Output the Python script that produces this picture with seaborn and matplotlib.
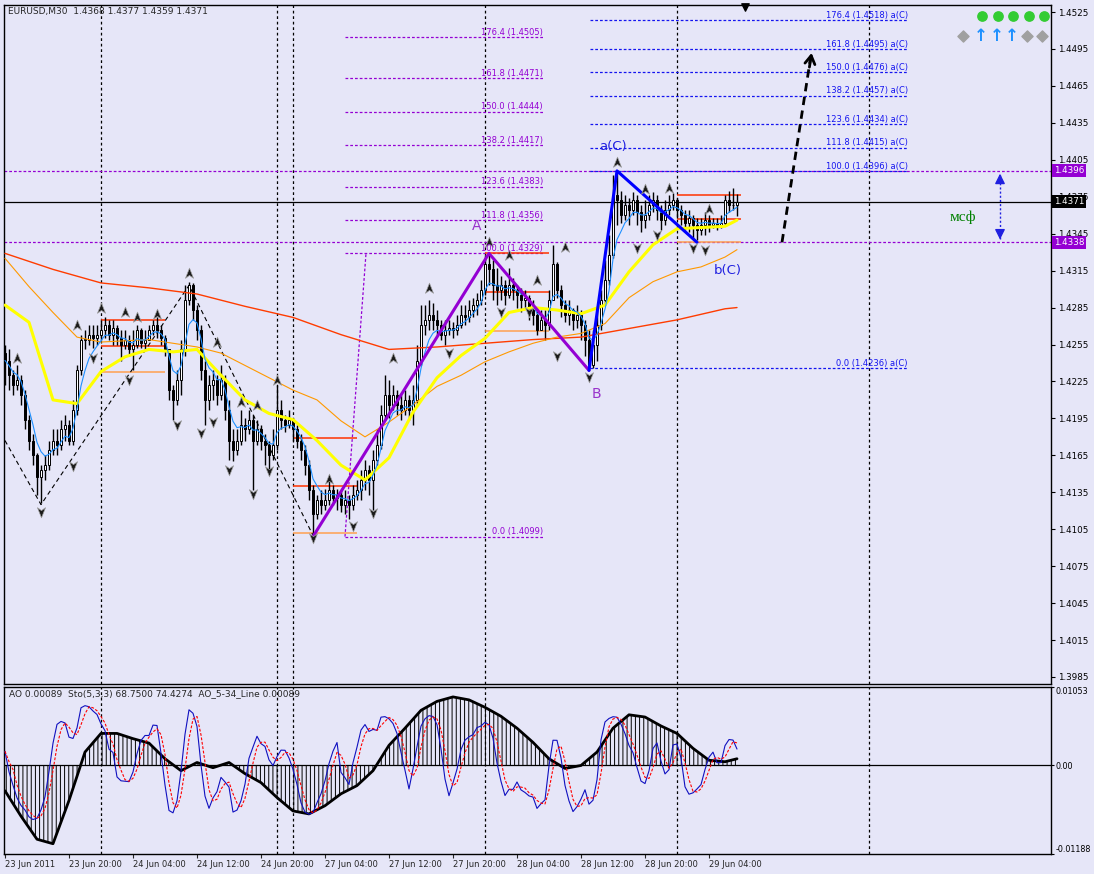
import numpy as np
import pandas as pd
import seaborn as sns
import matplotlib.pyplot as plt
import matplotlib.transforms as mtransforms
from matplotlib.path import Path

sns.set_theme(style='white')
plt.rcParams['font.family'] = ['DejaVu Sans']
plt.rcParams['hatch.linewidth'] = 0.7

BG = '#E6E6F8'
PURPLE = '#9400D3'
FIB_BLUE = '#1414F0'

# EURUSD M30 candles, in pips above 1.4000 (open = previous close)
first_open_pts = 248
close_pts = [242, 230, 222, 226, 214, 194, 177, 165,
             147, 153, 157, 169, 177, 173, 186, 190, 177, 202, 234, 259, 259, 263,
             260, 263, 267, 271, 263, 268, 260, 255, 259, 251, 255, 267, 256, 259,
             267, 271, 267, 260, 251, 218, 210, 226, 251, 291, 303, 283, 267, 234, 210,
             222, 226, 214, 226, 202, 177, 169, 177, 190, 186, 194, 177, 186, 177,
             173, 165, 173, 202, 194, 190, 194, 186, 177, 169, 157, 137, 117, 129, 125,
             129, 137, 130, 133, 125, 129, 125, 133, 137, 145, 153, 145, 161, 173,
             198, 214, 206, 214, 206, 202, 210, 202, 210, 242, 271, 275, 279, 275,
             271, 263, 267, 268, 267, 271, 279, 277, 283, 287, 291, 299, 320, 316, 303,
             299, 303, 295, 303, 299, 295, 291, 293, 283, 279, 267, 275, 271, 291,
             320, 299, 287, 279, 283, 275, 279, 271, 259, 238, 255, 271, 291, 307, 328,
             376, 372, 360, 368, 364, 372, 363, 356, 360, 368, 372, 364, 356, 364,
             368, 372, 364, 360, 354, 358, 352, 348, 352, 356, 352, 354, 352, 354,
             372, 368, 368, 371]
high_pts = [255, 251, 234, 238, 230, 218, 198, 182,
            167, 157, 165, 177, 186, 186, 194, 198, 194, 210, 238, 263, 267, 271,
            271, 271, 275, 277, 275, 275, 271, 267, 267, 263, 267, 271, 268, 267,
            271, 275, 277, 271, 263, 251, 222, 234, 259, 303, 306, 305, 287, 271, 242,
            230, 234, 230, 238, 230, 210, 186, 186, 202, 195, 202, 198, 194, 190,
            182, 177, 186, 222, 210, 198, 202, 195, 190, 182, 173, 161, 141, 133, 137,
            138, 145, 141, 138, 137, 137, 133, 141, 145, 153, 161, 157, 169, 186,
            206, 230, 226, 222, 218, 214, 218, 214, 222, 255, 287, 287, 291, 289,
            283, 275, 275, 275, 273, 279, 287, 287, 291, 293, 297, 307, 328, 329, 324,
            317, 311, 307, 317, 309, 303, 301, 299, 295, 291, 283, 283, 283, 299,
            336, 322, 303, 291, 291, 285, 287, 283, 275, 267, 267, 283, 299, 324, 344,
            393, 396, 380, 376, 374, 379, 376, 368, 372, 376, 379, 376, 368, 372,
            376, 378, 374, 368, 364, 364, 360, 358, 358, 363, 360, 358, 358, 360,
            376, 380, 382, 377]
low_pts = [222, 218, 214, 218, 206, 186, 169, 157,
           133, 126, 145, 153, 165, 165, 169, 177, 173, 173, 198, 230, 251, 255,
           252, 255, 259, 260, 259, 255, 255, 242, 251, 246, 234, 252, 252, 251,
           259, 263, 260, 255, 246, 210, 194, 206, 214, 246, 287, 275, 259, 226, 190,
           202, 210, 206, 210, 194, 161, 160, 165, 173, 177, 182, 137, 173, 169,
           157, 153, 161, 169, 186, 184, 187, 177, 171, 161, 149, 129, 99, 113, 117,
           121, 125, 125, 121, 119, 117, 113, 121, 129, 129, 137, 133, 121, 157,
           170, 194, 195, 202, 198, 194, 198, 194, 190, 206, 238, 263, 267, 267,
           263, 259, 255, 263, 260, 263, 268, 271, 273, 277, 279, 287, 295, 303, 291,
           287, 291, 287, 293, 291, 285, 281, 285, 275, 271, 263, 267, 259, 267,
           291, 293, 277, 273, 271, 267, 268, 259, 246, 234, 236, 242, 267, 287, 303,
           325, 352, 354, 356, 352, 360, 352, 346, 350, 356, 363, 356, 348, 352,
           360, 364, 358, 352, 348, 346, 341, 340, 344, 344, 346, 350, 348, 350,
           352, 363, 364, 359]

# moving averages (bar index, pips above 1.4000)
ma_idx = [0, 6, 12, 18, 24, 30, 36, 42, 48, 54, 60, 66, 72, 78, 84, 90,
          96, 102, 108, 114, 120, 126, 132, 138, 144, 150, 156, 162, 168, 174, 180, 183]
yellow_pts = [287, 273, 210, 207, 233, 245, 251, 249, 251, 230, 210, 199, 194, 177, 157, 145,
              163, 200, 228, 246, 260, 281, 285, 283, 280, 287, 314, 336, 349, 350, 351, 356]
orange_pts = [325, 302, 281, 261, 257, 258, 259, 256, 253, 248, 238, 228, 218, 210, 193, 180,
              192, 206, 221, 230, 241, 249, 256, 261, 264, 272, 293, 306, 314, 318, 326, 332]
red_idx = [0, 12, 24, 36, 48, 60, 72, 84, 96, 108, 120, 132, 144, 156, 168, 180, 183]
red_pts = [329, 316, 305, 301, 296, 286, 277, 263, 251, 253, 256, 259, 261, 268, 275, 284, 285]

# Awesome oscillator (x 1e-4)
ao_idx = [0, 4, 8, 12, 16, 20, 24, 28, 32, 36, 40, 44, 48, 52, 56, 60, 64, 68, 72, 76, 80, 84,
          88, 92, 96, 100, 104, 108, 112, 116, 120, 124, 128, 132, 136, 140, 144, 148, 152,
          156, 160, 164, 168, 172, 176, 180, 183]
ao_e4 = [-34, -68, -99, -105, -47, 18, 43, 43, 36, 30, 9, -7, 4, -3, 4, -11, -23, -43, -61,
         -65, -54, -38, -27, -7, 27, 50, 74, 86, 92, 88, 78, 66, 50, 31, 9, -4, 0, 18, 50,
         68, 65, 53, 43, 23, 7, 5, 9]

# daily pivot segments (start bar, levels)
pivot_start = [24, 72, 120, 168]
pivot_r = [1.4275, 1.4179, 1.4329, 1.4376]
pivot_m = [1.4254, 1.4140, 1.4298, 1.4357]
pivot_s = [1.4233, 1.4102, 1.4266, 1.4338]

# fractal markers (bar index, pips above 1.4000)
frac_up_idx = [3, 18, 24, 30, 33, 38, 46, 53, 59, 63, 68, 81, 97, 106, 121, 126, 133, 140,
               153, 160, 166, 176]
frac_up_pts = [244, 271, 285, 281, 277, 280, 313, 257, 208, 206, 226, 146, 244, 301, 338,
               328, 307, 334, 403, 381, 382, 365]
frac_dn_idx = [9, 17, 22, 31, 43, 49, 52, 56, 62, 66, 77, 87, 92, 111, 124, 131, 138, 146,
               158, 163, 172, 175]
frac_dn_pts = [119, 156, 244, 226, 190, 183, 192, 153, 134, 152, 98, 108, 118, 248, 281,
               281, 246, 229, 333, 344, 333, 332]

# zigzag and waves
zz_idx = [0, 9, 46, 77]
zz_px = [1.4177, 1.4125, 1.4303, 1.4100]
wave1_idx = [77, 121, 146]
wave1_px = [1.4099, 1.4329, 1.4234]
wave2_idx = [146, 153, 173]
wave2_px = [1.4234, 1.4396, 1.4338]

fib_ratios = [0.0, 100.0, 111.8, 123.6, 138.2, 150.0, 161.8, 176.4]
fib1_lo, fib1_hi, fib1_x = 1.4099, 1.4329, (85, 134.5)
fib2_lo, fib2_hi, fib2_x = 1.4236, 1.4396, (146.25, 225.75)

separator_idx = [24, 68, 72, 120, 168, 216]
price_ticks = [1.4525, 1.4495, 1.4465, 1.4435, 1.4405, 1.4375, 1.4345, 1.4315, 1.4285,
               1.4255, 1.4225, 1.4195, 1.4165, 1.4135, 1.4105, 1.4075, 1.4045, 1.4015, 1.3985]
time_idx = [0, 16, 32, 48, 64, 80, 96, 112, 128, 144, 160, 176]
time_labels = ['23 Jun 2011', '23 Jun 20:00', '24 Jun 04:00', '24 Jun 12:00', '24 Jun 20:00',
               '27 Jun 04:00', '27 Jun 12:00', '27 Jun 20:00', '28 Jun 04:00', '28 Jun 12:00',
               '28 Jun 20:00', '29 Jun 04:00']

# ---- build the price frame
close = 1.4 + np.array(close_pts) / 10000
high = 1.4 + np.array(high_pts) / 10000
low = 1.4 + np.array(low_pts) / 10000
open_ = np.concatenate([[1.4 + first_open_pts / 10000], close[:-1]])
high = np.maximum(high, np.maximum(open_, close))
low = np.minimum(low, np.minimum(open_, close))
df = pd.DataFrame({'bar': np.arange(len(close)), 'open': open_, 'high': high,
                   'low': low, 'close': close})
df['fast_ma'] = df['close'].ewm(span=5, adjust=False).mean()
ll = df['low'].rolling(5, min_periods=1).min()
hh = df['high'].rolling(5, min_periods=1).max()
df['sto_main'] = 100 * (df['close'] - ll).rolling(3, min_periods=1).sum() / \
    (hh - ll).rolling(3, min_periods=1).sum()
df['sto_signal'] = df['sto_main'].rolling(3, min_periods=1).mean()

# ---- figure
W, H = 1094, 874
def px_box(x0, y0, x1, y1):
    return [x0 / W, 1 - y1 / H, (x1 - x0) / W, (y1 - y0) / H]

fig = plt.figure(figsize=(W / 100, H / 100), dpi=100, facecolor=BG)
ax = fig.add_axes(px_box(4, 5, 1051, 684))
ax2 = fig.add_axes(px_box(4, 687, 1051, 854), sharex=ax)
for a in (ax, ax2):
    a.set_facecolor(BG)
    for s in a.spines.values():
        s.set_color('black')
        s.set_linewidth(1)
ax.set_xlim(-0.25, 261.5)
ax.set_ylim(1.39793, 1.45307)
ax2.set_ylim(-0.01188, 0.01053)

dash_sep = (0, (2.2, 2.2))
dash_fib = (0, (2.2, 1.6))
for j in separator_idx:
    ax.axvline(j, color='black', ls=dash_sep, lw=0.9, zorder=1)
    ax2.axvline(j, color='black', ls=dash_sep, lw=0.9, zorder=1)

# full width levels
ax.axhline(1.4396, color=PURPLE, ls=dash_fib, lw=0.9, zorder=1.5)
ax.axhline(1.4338, color=PURPLE, ls=dash_fib, lw=0.9, zorder=1.5)
ax.axhline(df['close'].iloc[-1], color='black', lw=0.9, zorder=1.5)

# fibonacci grids
fib1_px = [fib1_lo + r / 100 * (fib1_hi - fib1_lo) for r in fib_ratios]
fib2_px = [fib2_lo + r / 100 * (fib2_hi - fib2_lo) for r in fib_ratios]
ax.hlines(fib1_px, fib1_x[0], fib1_x[1], colors=PURPLE, linestyles=dash_fib, lw=0.9, zorder=1.6)
ax.hlines(fib2_px, fib2_x[0], fib2_x[1], colors=FIB_BLUE, linestyles=dash_fib, lw=0.9, zorder=1.6)
ax.plot([fib1_x[0], 90.25], [fib1_lo, fib1_hi], color=PURPLE, ls=dash_fib, lw=0.9, zorder=1.6)
for r, p in zip(fib_ratios, fib1_px):
    ax.text(fib1_x[1], p + 0.00003, f'{r:.1f} ({p:.4f})', color=PURPLE, fontsize=6,
            ha='right', va='bottom', zorder=7)
for r, p in zip(fib_ratios, fib2_px):
    ax.text(fib2_x[1], p + 0.00003, f'{r:.1f} ({p:.4f}) a(C)', color=FIB_BLUE, fontsize=6,
            ha='right', va='bottom', zorder=7)

# pivot segments
for s, r, m, lo in zip(pivot_start, pivot_r, pivot_m, pivot_s):
    ax.hlines([r, m], s, s + 16, colors='#FF3300', lw=1.1, zorder=2)
    ax.hlines([lo], s, s + 16, colors='#FFA050', lw=1.1, zorder=2)

# zigzag
ax.plot(zz_idx, zz_px, color='black', ls=(0, (4, 3)), lw=0.8, zorder=2)

# candles
bull = df['close'] >= df['open']
ax.vlines(df['bar'], df['low'], df['high'], color='black', lw=1.0, zorder=3)
body_bot = np.minimum(df['open'], df['close'])
body_h = np.maximum((df['close'] - df['open']).abs(), 0.00005)
ax.bar(df['bar'][bull], body_h[bull], bottom=body_bot[bull], width=0.72,
       color='white', edgecolor='black', lw=0.7, zorder=3.5)
ax.bar(df['bar'][~bull], body_h[~bull], bottom=body_bot[~bull], width=0.72,
       color='black', edgecolor='black', lw=0.7, zorder=3.5)

# moving averages
sns.lineplot(x=red_idx, y=1.4 + np.array(red_pts) / 10000, color='#FF3C00', lw=1.0, ax=ax, zorder=4)
sns.lineplot(x=ma_idx, y=1.4 + np.array(orange_pts) / 10000, color='#FF9900', lw=0.8, ax=ax, zorder=4)
sns.lineplot(x=ma_idx, y=1.4 + np.array(yellow_pts) / 10000, color='#FFFF00', lw=2.2, ax=ax, zorder=4.2)
sns.lineplot(data=df, x='bar', y='fast_ma', color='#1E90FF', lw=0.8, ax=ax, zorder=4.3)

# waves
ax.plot(wave1_idx, wave1_px, color=PURPLE, lw=2.2, zorder=5)
ax.plot(wave2_idx, wave2_px, color='#0000FF', lw=2.2, zorder=5)
ax.text(118, 1.4351, 'A', color='#9933CC', fontsize=10, ha='center', va='center', zorder=7)
ax.text(147.75, 1.4215, 'B', color='#9933CC', fontsize=10, ha='center', va='center', zorder=7)
ax.text(152, 1.4416, 'a(C)', color='#2020E0', fontsize=9.5, ha='center', va='center', zorder=7)
ax.text(180.75, 1.4315, 'b(C)', color='#2020E0', fontsize=9.5, ha='center', va='center', zorder=7)

# fractals
arrow_up = Path([(0, 1), (0.75, -0.9), (0, -0.35), (-0.75, -0.9), (0, 1)],
                [Path.MOVETO, Path.LINETO, Path.LINETO, Path.LINETO, Path.CLOSEPOLY])
arrow_dn = Path([(0, -1), (0.75, 0.9), (0, 0.35), (-0.75, 0.9), (0, -1)],
                [Path.MOVETO, Path.LINETO, Path.LINETO, Path.LINETO, Path.CLOSEPOLY])
ax.scatter(frac_up_idx, 1.4 + np.array(frac_up_pts) / 10000, marker=arrow_up, s=60,
           c='#1a1a1a', edgecolors='#a0a0a0', linewidths=0.5, zorder=6)
ax.scatter(frac_dn_idx, 1.4 + np.array(frac_dn_pts) / 10000, marker=arrow_dn, s=60,
           c='#1a1a1a', edgecolors='#a0a0a0', linewidths=0.5, zorder=6)

# projection arrow
ax.plot([194.25, 201.4], [1.4338, 1.4488], color='black', ls=(0, (3, 2)), lw=2, zorder=6)
ax.annotate('', xy=(201.75, 1.4494), xytext=(201.0, 1.4478),
            arrowprops=dict(arrowstyle='->,head_length=0.5,head_width=0.3', color='black', lw=2),
            zorder=6)
# target range double arrow
ax.plot([248.75, 248.75], [1.4341, 1.4393], color='#2020E0', ls=(0, (1.5, 1.5)), lw=1, zorder=6)
ax.annotate('', xy=(248.75, 1.4396), xytext=(248.75, 1.4388),
            arrowprops=dict(arrowstyle='-|>,head_length=0.5,head_width=0.25', color='#2020E0', lw=1))
ax.annotate('', xy=(248.75, 1.4338), xytext=(248.75, 1.4346),
            arrowprops=dict(arrowstyle='-|>,head_length=0.5,head_width=0.25', color='#2020E0', lw=1))
ax.text(239.5, 1.4358, 'мсф', color='#008000', fontsize=11, family=['Liberation Serif', 'DejaVu Serif'],
        ha='center', va='center', zorder=7)

# header and status icons
ax.text(0.0038, 0.9897, 'EURUSD,M30  1.4368 1.4377 1.4359 1.4371', transform=ax.transAxes,
        fontsize=6.5, va='center', ha='left', zorder=8)
def axf(x, y):
    return (x - 4) / 1047, 1 - (y - 5) / 679
for x in [982, 998, 1013, 1029, 1044]:
    ax.scatter(*axf(x, 16), transform=ax.transAxes, s=45, color='#33CC33', zorder=8, clip_on=False)
for x in [963, 1027, 1042]:
    ax.scatter(*axf(x, 36), transform=ax.transAxes, marker='D', s=32, color='#A0A0A0', zorder=8)
for x in [981, 997, 1012]:
    ax.text(*axf(x, 36), '↑', transform=ax.transAxes, fontsize=12, fontweight='bold',
            color='#1E90FF', ha='center', va='center', zorder=8)
top_tr = mtransforms.blended_transform_factory(ax.transData, ax.transAxes)
ax.scatter([185], [0.997], transform=top_tr, marker='v', s=28, color='black', clip_on=False, zorder=9)

# price axis
ax.set_yticks(price_ticks)
ax.set_yticklabels([f'{t:.4f}' for t in price_ticks])
ax.tick_params(axis='y', left=False, right=True, labelleft=False, labelright=True,
               direction='out', length=3, width=0.8, labelsize=6.3, pad=2, colors='black')
ax.tick_params(axis='x', bottom=False, labelbottom=False)
ax.set_xlabel('')
ax.set_ylabel('')
yr = mtransforms.blended_transform_factory(ax.transAxes, ax.transData)
for val, fc in [(1.4396, PURPLE), (1.4338, PURPLE), (df['close'].iloc[-1], 'black')]:
    ax.text(1.0025, val, f'{val:.4f}', transform=yr, color='white', fontsize=6.3, ha='left',
            va='center', zorder=10, clip_on=False,
            bbox=dict(boxstyle='square,pad=0.22', fc=fc, ec='none'))

# ---- oscillator panel
ao = np.array(ao_e4) / 10000
ax2.axhline(0, color='black', lw=0.9, zorder=1.5)
ax2.fill_between(ao_idx, 0, ao, facecolor='none', edgecolor='black', hatch='||||', lw=0, zorder=2)
sns.lineplot(x=ao_idx, y=ao, color='black', lw=2, ax=ax2, zorder=4)
ax3 = ax2.twinx()
ax3.set_ylim(-13.8, 107.2)
sns.lineplot(data=df, x='bar', y='sto_main', color='#1010C0', lw=0.8, ax=ax3, zorder=3)
sns.lineplot(data=df, x='bar', y='sto_signal', color='#FF0000', lw=0.8, ls=(0, (2.5, 1.5)), ax=ax3, zorder=3)
ax3.set_yticks([])
ax3.set_ylabel('')
ax3.set_xlabel('')
for s in ax3.spines.values():
    s.set_visible(False)

ax2.set_yticks([0.01053, 0.0, -0.01188])
ax2.set_yticklabels(['0.01053', '0.00', '-0.01188'])
ax2.tick_params(axis='y', left=False, right=True, labelleft=False, labelright=True,
                direction='out', length=2, width=0.8, labelsize=5.8, pad=1, colors='black')
labs = ax2.get_yticklabels()
labs[0].set_va('top')
labs[2].set_va('bottom')
ax2.set_ylabel('')
ax2.set_xticks(time_idx)
ax2.set_xticklabels(time_labels, ha='left')
ax2.tick_params(axis='x', bottom=True, direction='out', length=3, width=0.8, labelsize=6, pad=1)
ax2.set_xlabel('')
ax2.text(0.005, 0.958, 'AO 0.00089  Sto(5,3,3) 68.7500 74.4274  AO_5-34_Line 0.00089',
         transform=ax2.transAxes, fontsize=6.5, va='center', ha='left', zorder=8)
ax.set_xlim(-0.25, 261.5)

fig.savefig('out.png', dpi=100, facecolor=BG)
